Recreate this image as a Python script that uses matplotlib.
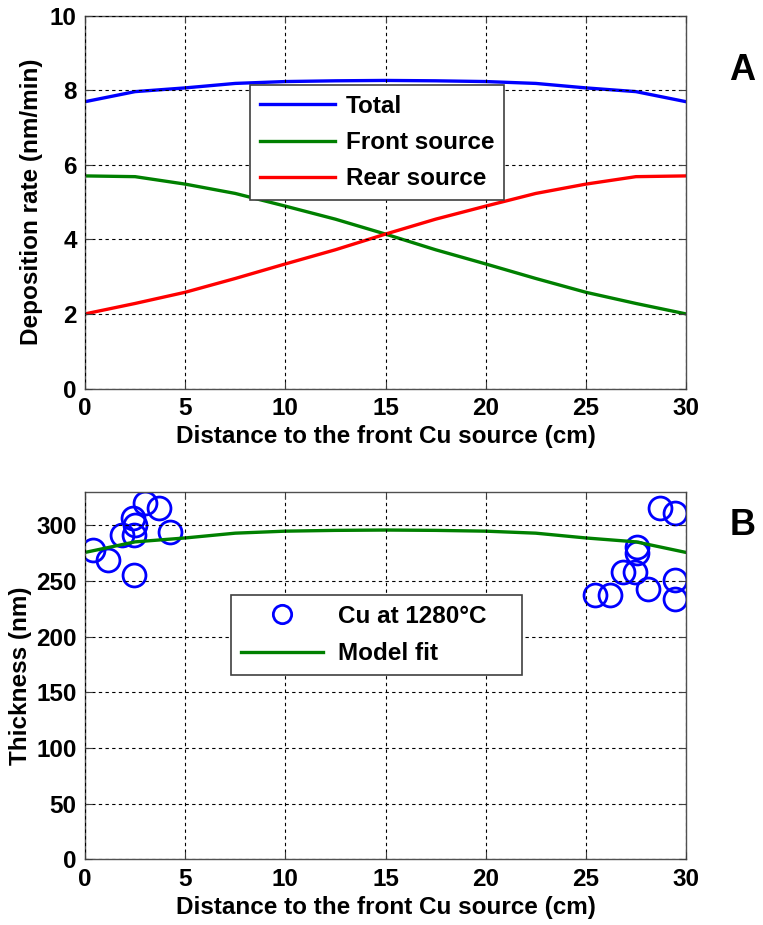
import matplotlib
matplotlib.use("Agg")
import matplotlib.pyplot as plt

plt.rcParams['font.family'] = ['Liberation Sans', 'DejaVu Sans']
plt.rcParams['font.weight'] = 'bold'

# Panel A: deposition rate along the tube (nm/min)
position_cm = [0, 2.5, 5, 7.5, 10, 12.5, 15, 17.5, 20, 22.5, 25, 27.5, 30]
total_rate = [7.69, 7.96, 8.06, 8.18, 8.23, 8.25, 8.26, 8.25, 8.23, 8.18, 8.06, 7.96, 7.69]
front_rate = [5.70, 5.68, 5.48, 5.23, 4.89, 4.54, 4.14, 3.72, 3.34, 2.95, 2.58, 2.28, 2.00]
rear_rate = [2.00, 2.28, 2.58, 2.95, 3.34, 3.72, 4.14, 4.54, 4.89, 5.23, 5.48, 5.68, 5.70]

# Panel B: measured Cu film thickness (nm) and model fit
meas_x = [0.41, 1.16, 1.83, 2.41, 2.50, 2.46, 3.00, 3.69, 4.24, 2.46,
          25.46, 26.20, 26.87, 27.46, 27.54, 27.54, 28.10, 28.70, 29.45, 29.45, 29.45]
meas_y = [277.6, 268.6, 291.0, 306.0, 300.0, 291.0, 319.5, 315.0, 294.0, 255.0,
          237.0, 237.0, 258.0, 258.0, 280.5, 274.6, 243.0, 315.0, 310.5, 250.6, 234.0]
fit_x = [0, 2.5, 5, 7.5, 10, 12.5, 15, 17.5, 20, 22.5, 25, 27.5, 30]
fit_y = [275.5, 285.0, 288.5, 292.8, 294.6, 295.3, 295.6, 295.3, 294.6, 292.8, 288.5, 285.0, 275.5]

x_ticks = [0, 5, 10, 15, 20, 25, 30]
xlabel = "Distance to the front Cu source (cm)"

FS = 17.5
fig = plt.figure(figsize=(7.63, 9.25), dpi=100)
axA = fig.add_axes([0.1114, 0.580, 0.7877, 0.4032])
axB = fig.add_axes([0.1114, 0.071, 0.7877, 0.3974])

def style(ax):
    ax.grid(True, color='black', linestyle=(0, (3, 3)), linewidth=0.8)
    ax.set_axisbelow(False)
    ax.tick_params(direction='in', top=True, right=True, length=5,
                   width=0.8, labelsize=FS, color='#404040', pad=6)
    for s in ax.spines.values():
        s.set_color('#505050')
        s.set_linewidth(1.0)
    ax.set_xlim(0, 30)
    ax.set_xticks(x_ticks)
    ax.set_xlabel(xlabel, fontsize=FS, fontweight='bold', labelpad=4)

# Panel A
axA.plot(position_cm, total_rate, color='#0000ff', lw=2.4, label='Total')
axA.plot(position_cm, front_rate, color='#008000', lw=2.4, label='Front source')
axA.plot(position_cm, rear_rate, color='#ff0000', lw=2.4, label='Rear source')
axA.set_ylim(0, 10)
axA.set_yticks([0, 2, 4, 6, 8, 10])
axA.set_ylabel("Deposition rate (nm/min)", fontsize=FS, fontweight='bold', labelpad=5)
style(axA)
legA = axA.legend(loc='upper left', bbox_to_anchor=(0.2745, 0.8137), fontsize=FS,
                  fancybox=False, framealpha=1, edgecolor='#404040',
                  handlelength=3.1, borderpad=0.4, labelspacing=0.55,
                  handletextpad=0.45, borderaxespad=0)
legA.get_frame().set_linewidth(1.2)

# Panel B
axB.plot(meas_x, meas_y, linestyle='none', marker='o', markersize=16.5,
         markerfacecolor='none', markeredgecolor='#0000ff', markeredgewidth=2.0,
         label='Cu at 1280°C')
axB.plot(fit_x, fit_y, color='#008000', lw=2.4, label='Model fit')
axB.set_ylim(0, 330)
axB.set_yticks([0, 50, 100, 150, 200, 250, 300])
axB.set_ylabel("Thickness (nm)", fontsize=FS, fontweight='bold', labelpad=3)
style(axB)
legB = axB.legend(loc='upper left', bbox_to_anchor=(0.243, 0.3, 0.484, 0.419),
                  mode='expand', fontsize=FS,
                  fancybox=False, framealpha=1, edgecolor='#404040',
                  handlelength=3.4, borderpad=0.4, labelspacing=0.6,
                  handletextpad=0.6, borderaxespad=0, markerscale=0.8)
legB.get_frame().set_linewidth(1.2)

fig.text(0.973, 0.924, "A", fontsize=26, fontweight='bold', ha='center', va='center')
fig.text(0.973, 0.432, "B", fontsize=26, fontweight='bold', ha='center', va='center')

fig.savefig("out.png", dpi=100)
